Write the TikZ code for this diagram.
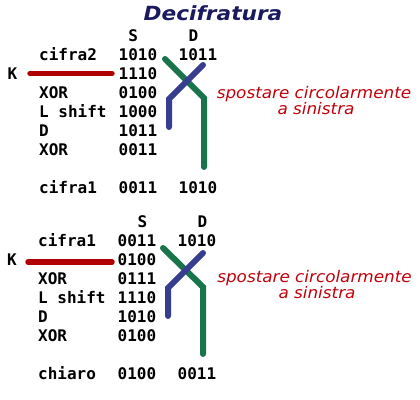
\documentclass[tikz,border=0pt]{standalone}
\usepackage{fontspec}
\newfontfamily\titlefont[FakeStretch=1.11]{DejaVu Sans}
\newfontfamily\notefont[FakeStretch=1.05]{DejaVu Sans}
\newfontfamily\monob{DejaVu Sans Mono}
\definecolor{titleblue}{HTML}{1A1A5E}
\definecolor{notered}{HTML}{C0000A}
\definecolor{barred}{HTML}{B00000}
\definecolor{swgreen}{HTML}{18744A}
\definecolor{swblue}{HTML}{373D8F}
\tikzset{
  txt/.style={anchor=base west, inner sep=0pt, font=\monob\bfseries\fontsize{16bp}{19bp}\selectfont},
  note/.style={anchor=base, inner sep=0pt, text=notered, font=\notefont\itshape\fontsize{16bp}{18bp}\selectfont},
  keybar/.style={draw=barred, line width=5.5bp, line cap=round},
  greenline/.style={draw=swgreen, line width=6bp, line cap=round, line join=miter},
  blueline/.style={draw=swblue, line width=6bp, line cap=round, line join=miter}
}
\begin{document}
\begin{tikzpicture}[x=1bp,y=-1bp]
\useasboundingbox (0,0) rectangle (420,400);
\node[anchor=base, inner sep=0pt, text=titleblue, font=\titlefont\bfseries\itshape\fontsize{19.5bp}{21bp}\selectfont] (title) at (213,20.7) {Decifratura};

% ---- top block ----
\node[txt] (hS1) at (128.2,41) {S};
\node[txt] (hD1) at (188.4,41) {D};
\node[txt] (l11) at (39,60) {cifra2};
\node[txt] (s11) at (118.5,60) {1010};
\node[txt] (d11) at (178.5,60) {1011};
\node[txt] (k1) at (7.5,79) {K};
\node[txt] (s12) at (118.5,79) {1110};
\node[txt] (l13) at (39,98) {XOR};
\node[txt] (s13) at (118.5,98) {0100};
\node[txt] (l14) at (39,117) {L shift};
\node[txt] (s14) at (118.5,117) {1000};
\node[txt] (l15) at (39,136) {D};
\node[txt] (s15) at (118.5,136) {1011};
\node[txt] (l16) at (39,155) {XOR};
\node[txt] (s16) at (118.5,155) {0011};
\node[txt] (l17) at (39,193) {cifra1};
\node[txt] (s17) at (118.5,193) {0011};
\node[txt] (d17) at (178.5,193) {1010};
\node[note] (n1a) at (314,98) {spostare circolarmente};
\node[note] (n1b) at (316,114) {a sinistra};

\coordinate (r1a) at (30,73.5);
\coordinate (r1b) at (112,73.5);
\coordinate (g1a) at (165,59);
\coordinate (g1b) at (204,98);
\coordinate (g1c) at (204,167);
\coordinate (b1a) at (203,65);
\coordinate (b1b) at (169,99);
\coordinate (b1c) at (169,127);
\draw[keybar] (r1a) -- (r1b);
\draw[greenline] (g1a) -- (g1b) -- (g1c);
\draw[blueline] (b1a) -- (b1b) -- (b1c);

% ---- bottom block ----
\node[txt] (hS2) at (137.5,227) {S};
\node[txt] (hD2) at (197.5,227) {D};
\node[txt] (l21) at (38,246.5) {cifra1};
\node[txt] (s21) at (117.5,246.5) {0011};
\node[txt] (d21) at (177.5,246.5) {1010};
\node[txt] (k2) at (7,265.5) {K};
\node[txt] (s22) at (117.5,265.5) {0100};
\node[txt] (l23) at (38,284.5) {XOR};
\node[txt] (s23) at (117.5,284.5) {0111};
\node[txt] (l24) at (38,303) {L shift};
\node[txt] (s24) at (117.5,303) {1110};
\node[txt] (l25) at (38,322) {D};
\node[txt] (s25) at (117.5,322) {1010};
\node[txt] (l26) at (38,341) {XOR};
\node[txt] (s26) at (117.5,341) {0100};
\node[txt] (l27) at (38,379) {chiaro};
\node[txt] (s27) at (117.5,379) {0100};
\node[txt] (d27) at (177.5,379) {0011};
\node[note] (n2a) at (314.5,282) {spostare circolarmente};
\node[note] (n2b) at (317,298) {a sinistra};

\coordinate (r2a) at (28,262);
\coordinate (r2b) at (112,262);
\coordinate (g2a) at (163,248);
\coordinate (g2b) at (203,287);
\coordinate (g2c) at (203,354);
\coordinate (b2a) at (203,253);
\coordinate (b2b) at (168,288);
\coordinate (b2c) at (168,316);
\draw[keybar] (r2a) -- (r2b);
\draw[greenline] (g2a) -- (g2b) -- (g2c);
\draw[blueline] (b2a) -- (b2b) -- (b2c);
\end{tikzpicture}
\end{document}
